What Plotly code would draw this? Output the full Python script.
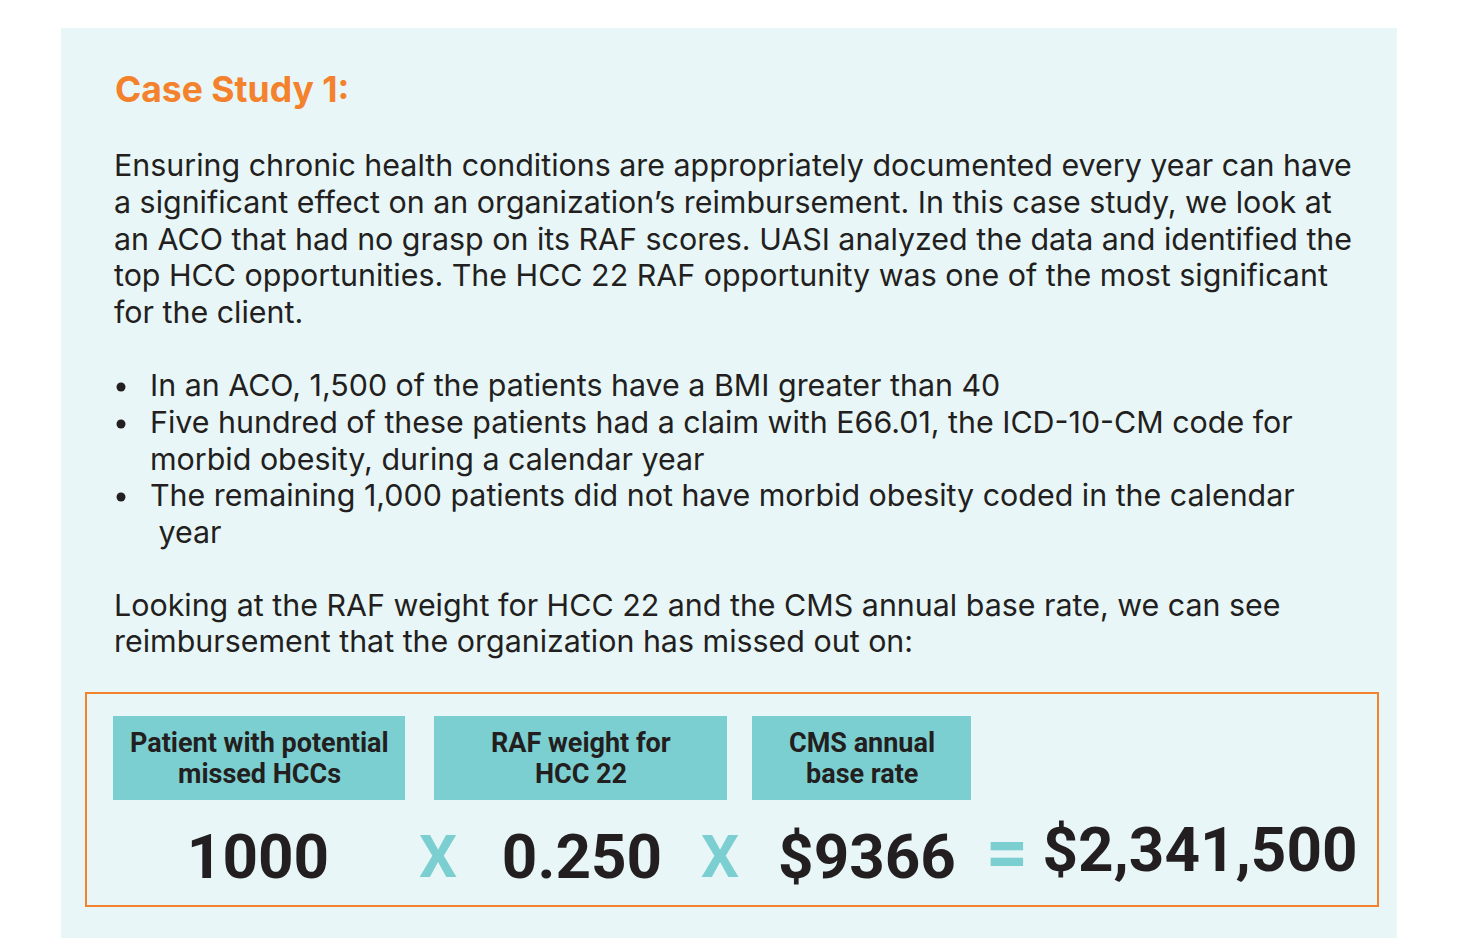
import plotly.graph_objects as go

# ---- data ----
title = "Case Study 1:"
intro_lines = [
    "Ensuring chronic health conditions are appropriately documented every year can have",
    "a significant effect on an organization’s reimbursement. In this case study, we look at",
    "an ACO that had no grasp on its RAF scores. UASI analyzed the data and identified the",
    "top HCC opportunities. The HCC 22 RAF opportunity was one of the most significant",
    "for the client.",
]
bullet_lines = [
    (True, "In an ACO, 1,500 of the patients have a BMI greater than 40"),
    (True, "Five hundred of these patients had a claim with E66.01, the ICD-10-CM code for"),
    (False, "morbid obesity, during a calendar year"),
    (True, "The remaining 1,000 patients did not have morbid obesity coded in the calendar"),
    (False, " year"),
]
outro_lines = [
    "Looking at the RAF weight for HCC 22 and the CMS annual base rate, we can see",
    "reimbursement that the organization has missed out on:",
]
factor_labels = [["Patient with potential", "missed HCCs"], ["RAF weight for", "HCC 22"], ["CMS annual", "base rate"]]
factor_values = ["1000", "0.250", "$9366"]
operators = ["X", "X", "="]
result_value = "$2,341,500"

# ---- layout positions (pixels in the 1462x952 page) ----
OFF = 8  # page body margin
W, H = 1462, 952
intro_y = [165, 202, 239, 275, 312]
bullet_y = [385, 422, 459, 495, 532]
outro_y = [605, 641]
box_x = [(113, 405), (434, 727), (752, 971)]
box_y = (716, 800)
label_y = [743, 774]
value_x = [258, 582, 867]
op_x = [438, 720, 1007]
num_y = 862
result_x = 1200
result_y = 855

BG = "#E8F6F7"
ORANGE = "#F4812C"
TEAL = "#7CCFD0"
DARK = "#231F20"
BODY_FONT = "Inter, Open Sans, sans-serif"
COND_FONT = "Roboto, Liberation Sans Narrow, sans-serif"
BODY_SIZE = 30.4

fig = go.Figure()

shapes = [
    dict(type="rect", x0=61, x1=1397, y0=28, y1=938, fillcolor=BG, line=dict(width=0), layer="below"),
    dict(type="rect", x0=86, x1=1378, y0=693, y1=906, fillcolor="rgba(0,0,0,0)",
         line=dict(color=ORANGE, width=2), layer="below"),
]
for (x0, x1) in box_x:
    shapes.append(dict(type="rect", x0=x0, x1=x1, y0=box_y[0], y1=box_y[1],
                       fillcolor=TEAL, line=dict(width=0), layer="below"))

ann = []
ann.append(dict(x=113, y=89, text="<b>" + title + "</b>", showarrow=False, xanchor="left", yanchor="middle",
                font=dict(family=BODY_FONT, size=35.5, color=ORANGE)))
for t, y in zip(intro_lines, intro_y):
    ann.append(dict(x=112, y=y, text=t, showarrow=False, xanchor="left", yanchor="middle",
                    font=dict(family=BODY_FONT, size=BODY_SIZE, color=DARK)))
for (_, t), y in zip(bullet_lines, bullet_y):
    ann.append(dict(x=148, y=y, text=t, showarrow=False, xanchor="left", yanchor="middle",
                    font=dict(family=BODY_FONT, size=BODY_SIZE, color=DARK)))
for t, y in zip(outro_lines, outro_y):
    ann.append(dict(x=112, y=y, text=t, showarrow=False, xanchor="left", yanchor="middle",
                    font=dict(family=BODY_FONT, size=BODY_SIZE, color=DARK)))
for lab, (x0, x1) in zip(factor_labels, box_x):
    for line, ly in zip(lab, label_y):
        ann.append(dict(x=(x0 + x1) / 2, y=ly, text="<b>" + line + "</b>",
                        showarrow=False, xanchor="center", yanchor="middle",
                        font=dict(family=COND_FONT, size=27, color=DARK)))

# bullet dots
dots_y = [y + 2 for (b, _), y in zip(bullet_lines, bullet_y) if b]
fig.add_trace(go.Scatter(
    x=[121] * len(dots_y), y=dots_y, mode="markers",
    marker=dict(size=9, color=DARK, line=dict(width=0)),
    hoverinfo="skip", showlegend=False))

fig.add_trace(go.Scatter(
    x=value_x, y=[num_y] * len(value_x), mode="text",
    text=["<b>" + v + "</b>" for v in factor_values],
    textfont=dict(family=COND_FONT, size=62, color=DARK),
    textposition="middle center", hoverinfo="skip", showlegend=False))
fig.add_trace(go.Scatter(
    x=op_x, y=[num_y, num_y, num_y - 3], mode="text",
    text=["<b>" + o + "</b>" for o in operators],
    textfont=dict(family=COND_FONT, size=[60, 60, 74], color=TEAL),
    textposition="middle center", hoverinfo="skip", showlegend=False))
fig.add_trace(go.Scatter(
    x=[result_x], y=[result_y], mode="text",
    text=["<b>" + result_value + "</b>"],
    textfont=dict(family=COND_FONT, size=62, color=DARK),
    textposition="middle center", hoverinfo="skip", showlegend=False))

fig.update_layout(
    width=W - OFF, height=H - OFF, margin=dict(l=0, r=0, t=0, b=0),
    paper_bgcolor="white", plot_bgcolor="white",
    xaxis=dict(range=[OFF, W], visible=False, fixedrange=True),
    yaxis=dict(range=[H, OFF], visible=False, fixedrange=True),
    shapes=shapes, annotations=ann, showlegend=False,
)
fig.write_html("out.html", config={"displayModeBar": False})
